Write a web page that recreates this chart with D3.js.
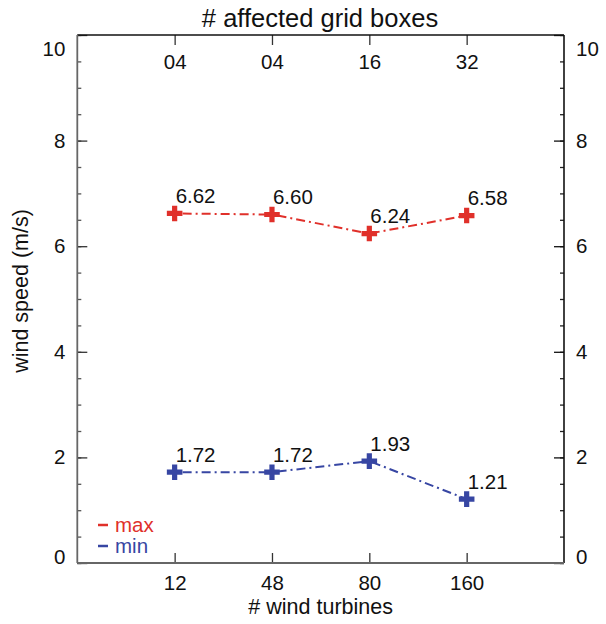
<!DOCTYPE html>
<html>
<head>
<meta charset="utf-8">
<script src="https://cdn.jsdelivr.net/npm/d3@7"></script>
<style>
html,body{margin:0;padding:0;background:#fff;}
svg text{font-family:"Liberation Sans",Arial,Helvetica,sans-serif;}
</style>
</head>
<body>
<svg id="chart" width="606" height="624"></svg>
<script>
const turbines = ["12", "48", "80", "160"];
const gridBoxes = ["04", "04", "16", "32"];
const maxValues = [6.62, 6.60, 6.24, 6.58];
const minValues = [1.72, 1.72, 1.93, 1.21];
const majorTicks = [0, 2, 4, 6, 8, 10];
const minorTicks = d3.range(0, 10.01, 0.5);
const seriesNames = ["max", "min"];
const seriesColors = ["#e0302a", "#3746a3"];

const svg = d3.select("#chart");
const L = 77.3, R = 564, T = 35, B = 563;

const x = d3.scalePoint().domain(turbines).range([L, R]).padding(1);
const xTop = d3.scalePoint().domain(d3.range(gridBoxes.length)).range([L, R]).padding(1);
const y = d3.scaleLinear().domain([0, 10]).range([B, T]);

const fs = 20.5;
const fsTitle = 21.5;

// minor ticks left/right
svg.append("g").attr("transform", `translate(${L},0)`)
  .call(d3.axisLeft(y).tickValues(minorTicks).tickSize(-4).tickFormat(""))
  .call(g => g.select(".domain").remove())
  .call(g => g.selectAll("line").attr("stroke", "#555").attr("stroke-width", 1.3));
svg.append("g").attr("transform", `translate(${R},0)`)
  .call(d3.axisRight(y).tickValues(minorTicks).tickSize(-4).tickFormat(""))
  .call(g => g.select(".domain").remove())
  .call(g => g.selectAll("line").attr("stroke", "#222").attr("stroke-width", 1.3));

// major left/right
const gl = svg.append("g").attr("transform", `translate(${L},0)`)
  .call(d3.axisLeft(y).tickValues(majorTicks).tickSize(-10).tickPadding(12).tickFormat(d3.format("d")))
  .call(g => g.select(".domain").remove());
const gr = svg.append("g").attr("transform", `translate(${R},0)`)
  .call(d3.axisRight(y).tickValues(majorTicks).tickSize(-10).tickPadding(12).tickFormat(d3.format("d")))
  .call(g => g.select(".domain").remove());
[gl, gr].forEach((g, i) => {
  g.selectAll("line").attr("stroke", i === 0 ? "#333" : "#111").attr("stroke-width", 1.3);
  g.selectAll("text").attr("font-size", fs).attr("fill", "#111")
    .attr("dy", d => d === 10 ? "1.0em" : d === 0 ? "0.0em" : "0.32em");
});

// bottom axis
const gb = svg.append("g").attr("transform", `translate(0,${B})`)
  .call(d3.axisBottom(x).tickSize(-10).tickPadding(12.5))
  .call(g => g.select(".domain").remove());
gb.selectAll("line").attr("stroke", "#333").attr("stroke-width", 1.3);
gb.selectAll("text").attr("font-size", fs).attr("fill", "#111");

// top axis (labels inside)
const gt = svg.append("g").attr("transform", `translate(0,${T})`)
  .call(d3.axisBottom(xTop).tickSize(10).tickPadding(9).tickFormat(i => gridBoxes[i]))
  .call(g => g.select(".domain").remove());
gt.selectAll("line").attr("stroke", "#333").attr("stroke-width", 1.3);
gt.selectAll("text").attr("font-size", fs).attr("fill", "#111");

// frame
svg.append("line").attr("x1", L).attr("x2", R).attr("y1", T).attr("y2", T).attr("stroke", "#111").attr("stroke-width", 1.6);
svg.append("line").attr("x1", R).attr("x2", R).attr("y1", T).attr("y2", B).attr("stroke", "#111").attr("stroke-width", 1.6);
svg.append("line").attr("x1", L).attr("x2", L).attr("y1", T).attr("y2", B).attr("stroke", "#666").attr("stroke-width", 1.8);
svg.append("line").attr("x1", L).attr("x2", R).attr("y1", B).attr("y2", B).attr("stroke", "#666").attr("stroke-width", 1.8);

// series
const series = [maxValues, minValues];
const line = d3.line().x((d, i) => x(turbines[i])).y(d => y(d));
series.forEach((vals, s) => {
  svg.append("path").datum(vals).attr("d", line)
    .attr("fill", "none").attr("stroke", seriesColors[s]).attr("stroke-width", 2)
    .attr("stroke-dasharray", "9,4,2,4").attr("stroke-dashoffset", -8);
  svg.selectAll(null).data(vals).enter().append("path")
    .attr("d", d3.symbol(d3.symbolCross, 135))
    .attr("transform", (d, i) => `translate(${x(turbines[i])},${y(d)})`)
    .attr("fill", seriesColors[s]);
  svg.selectAll(null).data(vals).enter().append("text")
    .attr("x", (d, i) => x(turbines[i]) + 1)
    .attr("y", d => y(d) - 10.5)
    .attr("font-size", fs).attr("fill", "#111")
    .text(d => d3.format(".2f")(d));
});

// legend
seriesNames.forEach((n, i) => {
  const yy = 525 + i * 21;
  svg.append("line").attr("x1", 98).attr("x2", 108).attr("y1", yy).attr("y2", yy)
    .attr("stroke", seriesColors[i]).attr("stroke-width", 2.5);
  svg.append("text").attr("x", 115).attr("y", yy).attr("dy", "0.32em")
    .attr("font-size", fs).attr("fill", seriesColors[i]).text(n);
});

// titles
svg.append("text").attr("x", 320).attr("y", 27).attr("text-anchor", "middle")
  .attr("font-size", 25.5).attr("fill", "#111").text("# affected grid boxes");
svg.append("text").attr("x", (L + R) / 2).attr("y", 614).attr("text-anchor", "middle")
  .attr("font-size", fsTitle).attr("fill", "#111").text("# wind turbines");
svg.append("text").attr("transform", "translate(28,291) rotate(-90)")
  .attr("text-anchor", "middle").attr("font-size", fsTitle).attr("fill", "#111").text("wind speed (m/s)");
</script>
</body>
</html>
